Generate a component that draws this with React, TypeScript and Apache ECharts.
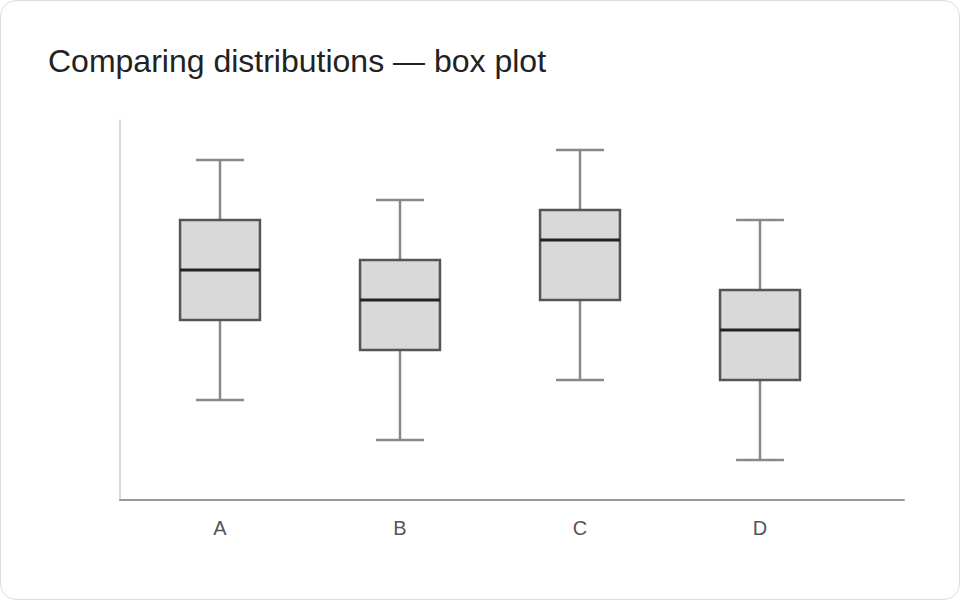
import React, { useRef, useEffect } from 'react'
import * as echarts from 'echarts'

// five-number summaries per group: min, q1, median, q3, max
const categories = ['A', 'B', 'C', 'D']
const minValues = [5, 3, 6, 2]
const q1Values = [9, 7.5, 10, 6]
const medianValues = [11.5, 10, 13, 8.5]
const q3Values = [14, 12, 14.5, 10.5]
const maxValues = [17, 15, 17.5, 14]

const FONT = '"Liberation Sans", Arial, Helvetica, sans-serif'

function BoxPlot() {
  const chartRef = useRef<HTMLDivElement>(null)

  useEffect(() => {
    document.body.style.margin = '0'
    const chart = echarts.init(chartRef.current, null, { renderer: 'svg' })

    const data = categories.map((_, i) => [
      i,
      minValues[i],
      q1Values[i],
      medianValues[i],
      q3Values[i],
      maxValues[i],
    ])

    const option = {
      animation: false,
      backgroundColor: '#fff',
      title: {
        text: 'Comparing distributions — box plot',
        left: 43,
        top: 40,
        textStyle: {
          fontFamily: FONT,
          fontSize: 32,
          fontWeight: 'normal',
          color: '#222',
        },
      },
      graphic: [
        {
          type: 'rect',
          z: -10,
          silent: true,
          shape: { x: 0.5, y: 0.5, width: 959, height: 599, r: 16 },
          style: { fill: '#fff', stroke: '#ddd', lineWidth: 1 },
        },
      ],
      grid: [
        { left: 130, top: 120, width: 720, height: 380 },
        { left: 120, top: 120, width: 784, height: 380 },
      ],
      xAxis: [
        {
          type: 'category',
          gridIndex: 0,
          data: categories,
          axisLine: { show: false },
          axisTick: { show: false },
          axisLabel: { color: '#555', fontSize: 20, fontFamily: FONT, margin: 18 },
        },
        {
          type: 'value',
          gridIndex: 1,
          min: 0,
          max: 1,
          axisLine: { show: true, lineStyle: { color: '#999', width: 2 } },
          axisTick: { show: false },
          axisLabel: { show: false },
          splitLine: { show: false },
        },
      ],
      yAxis: [
        { type: 'value', gridIndex: 0, min: 0, max: 19, show: false },
        {
          type: 'value',
          gridIndex: 1,
          min: 0,
          max: 1,
          axisLine: { show: true, lineStyle: { color: '#ccc', width: 1.5 } },
          axisTick: { show: false },
          axisLabel: { show: false },
          splitLine: { show: false },
        },
      ],
      series: [
        {
          type: 'custom',
          xAxisIndex: 0,
          yAxisIndex: 0,
          encode: { x: 0, y: [1, 2, 3, 4, 5] },
          data,
          renderItem: (params: any, api: any) => {
            const idx = api.value(0)
            const pMin = api.coord([idx, api.value(1)])
            const pQ1 = api.coord([idx, api.value(2)])
            const pMed = api.coord([idx, api.value(3)])
            const pQ3 = api.coord([idx, api.value(4)])
            const pMax = api.coord([idx, api.value(5)])
            const band = api.size([1, 0])[0]
            const halfBox = band * 0.222
            const halfCap = band * 0.133
            const cx = pMed[0]
            const whisker = { stroke: '#888', lineWidth: 2.5 }
            return {
              type: 'group',
              children: [
                { type: 'line', shape: { x1: cx, y1: pQ3[1], x2: cx, y2: pMax[1] }, style: whisker },
                { type: 'line', shape: { x1: cx, y1: pQ1[1], x2: cx, y2: pMin[1] }, style: whisker },
                { type: 'line', shape: { x1: cx - halfCap, y1: pMax[1], x2: cx + halfCap, y2: pMax[1] }, style: whisker },
                { type: 'line', shape: { x1: cx - halfCap, y1: pMin[1], x2: cx + halfCap, y2: pMin[1] }, style: whisker },
                {
                  type: 'rect',
                  shape: { x: cx - halfBox, y: pQ3[1], width: halfBox * 2, height: pQ1[1] - pQ3[1] },
                  style: { fill: '#d9d9d9', stroke: '#555', lineWidth: 2.5 },
                },
                {
                  type: 'line',
                  shape: { x1: cx - halfBox, y1: pMed[1], x2: cx + halfBox, y2: pMed[1] },
                  style: { stroke: '#222', lineWidth: 3 },
                },
              ],
            }
          },
        },
      ],
    }

    chart.setOption(option)

    return () => {
      chart.dispose()
    }
  }, [])

  return <div ref={chartRef} style={{ width: 960, height: 600 }}></div>
}

export default function App() {
  return <BoxPlot />
}
